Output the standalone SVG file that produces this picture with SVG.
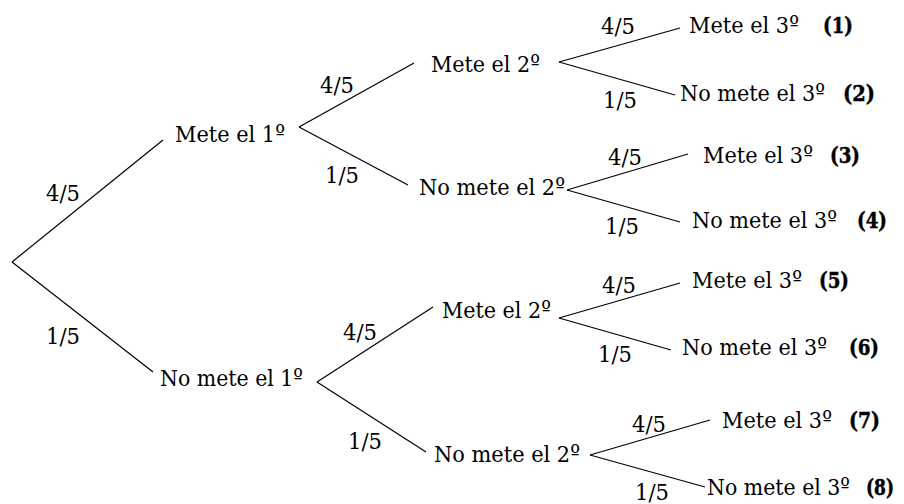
<svg xmlns="http://www.w3.org/2000/svg" width="904" height="504" viewBox="0 0 904 504">
<style>
text{font-family:'DejaVu Serif','Liberation Serif',serif;font-size:23px;fill:#000}
.b{font-weight:bold;stroke:#000;stroke-width:0.5}
#connectors line{stroke:#000;stroke-width:1.2;fill:none}
</style>
<rect width="904" height="504" fill="#fff"/>
<g id="connectors">
<line x1="12" y1="262" x2="163" y2="140"/>
<line x1="12" y1="262" x2="153" y2="372"/>
<line x1="299" y1="127" x2="414" y2="63"/>
<line x1="299" y1="127" x2="408" y2="185"/>
<line x1="317" y1="382" x2="433" y2="307"/>
<line x1="317" y1="382" x2="426" y2="452"/>
<line x1="559" y1="62" x2="680" y2="28"/>
<line x1="559" y1="62" x2="675" y2="95"/>
<line x1="567" y1="190" x2="688" y2="154"/>
<line x1="567" y1="190" x2="680" y2="222"/>
<line x1="559" y1="318" x2="680" y2="283"/>
<line x1="559" y1="318" x2="671" y2="350"/>
<line x1="590" y1="455" x2="710" y2="420"/>
<line x1="590" y1="455" x2="705" y2="487"/>
<g id="edge-labels">
<text x="46" y="201" textLength="34" lengthAdjust="spacingAndGlyphs">4/5</text>
<text x="46" y="344" textLength="34" lengthAdjust="spacingAndGlyphs">1/5</text>
<text x="320" y="93" textLength="34" lengthAdjust="spacingAndGlyphs">4/5</text>
<text x="325" y="183" textLength="34" lengthAdjust="spacingAndGlyphs">1/5</text>
<text x="343" y="340" textLength="34" lengthAdjust="spacingAndGlyphs">4/5</text>
<text x="348" y="449" textLength="34" lengthAdjust="spacingAndGlyphs">1/5</text>
<text x="601" y="34" textLength="34" lengthAdjust="spacingAndGlyphs">4/5</text>
<text x="603" y="108" textLength="34" lengthAdjust="spacingAndGlyphs">1/5</text>
<text x="608" y="165" textLength="34" lengthAdjust="spacingAndGlyphs">4/5</text>
<text x="605" y="234" textLength="34" lengthAdjust="spacingAndGlyphs">1/5</text>
<text x="602" y="293" textLength="34" lengthAdjust="spacingAndGlyphs">4/5</text>
<text x="598" y="362" textLength="34" lengthAdjust="spacingAndGlyphs">1/5</text>
<text x="632" y="432" textLength="34" lengthAdjust="spacingAndGlyphs">4/5</text>
<text x="635" y="500" textLength="34" lengthAdjust="spacingAndGlyphs">1/5</text>
</g>
</g>
<g id="n-m1"><text x="175" y="142" textLength="110" lengthAdjust="spacingAndGlyphs">Mete el 1º</text></g>
<g id="n-nm1"><text x="160" y="386" textLength="143" lengthAdjust="spacingAndGlyphs">No mete el 1º</text></g>
<g id="n-m1-m2"><text x="431" y="72" textLength="109" lengthAdjust="spacingAndGlyphs">Mete el 2º</text></g>
<g id="n-m1-nm2"><text x="419" y="195" textLength="146" lengthAdjust="spacingAndGlyphs">No mete el 2º</text></g>
<g id="n-nm1-m2"><text x="442" y="318" textLength="109" lengthAdjust="spacingAndGlyphs">Mete el 2º</text></g>
<g id="n-nm1-nm2"><text x="434" y="462" textLength="146" lengthAdjust="spacingAndGlyphs">No mete el 2º</text></g>
<g id="leaf1"><text x="689" y="33" textLength="110" lengthAdjust="spacingAndGlyphs">Mete el 3º</text><text class="b" x="823" y="33" textLength="30" lengthAdjust="spacingAndGlyphs">(1)</text></g>
<g id="leaf2"><text x="680" y="101" textLength="145" lengthAdjust="spacingAndGlyphs">No mete el 3º</text><text class="b" x="843" y="101" textLength="32" lengthAdjust="spacingAndGlyphs">(2)</text></g>
<g id="leaf3"><text x="703" y="163" textLength="110" lengthAdjust="spacingAndGlyphs">Mete el 3º</text><text class="b" x="830" y="163" textLength="30" lengthAdjust="spacingAndGlyphs">(3)</text></g>
<g id="leaf4"><text x="692" y="228" textLength="145" lengthAdjust="spacingAndGlyphs">No mete el 3º</text><text class="b" x="857" y="228" textLength="30" lengthAdjust="spacingAndGlyphs">(4)</text></g>
<g id="leaf5"><text x="692" y="288" textLength="110" lengthAdjust="spacingAndGlyphs">Mete el 3º</text><text class="b" x="819" y="288" textLength="30" lengthAdjust="spacingAndGlyphs">(5)</text></g>
<g id="leaf6"><text x="682" y="355" textLength="145" lengthAdjust="spacingAndGlyphs">No mete el 3º</text><text class="b" x="849" y="355" textLength="30" lengthAdjust="spacingAndGlyphs">(6)</text></g>
<g id="leaf7"><text x="722" y="428" textLength="110" lengthAdjust="spacingAndGlyphs">Mete el 3º</text><text class="b" x="849" y="428" textLength="31" lengthAdjust="spacingAndGlyphs">(7)</text></g>
<g id="leaf8"><text x="707" y="495" textLength="143" lengthAdjust="spacingAndGlyphs">No mete el 3º</text><text class="b" x="866" y="495" textLength="28" lengthAdjust="spacingAndGlyphs">(8)</text></g>
</svg>
